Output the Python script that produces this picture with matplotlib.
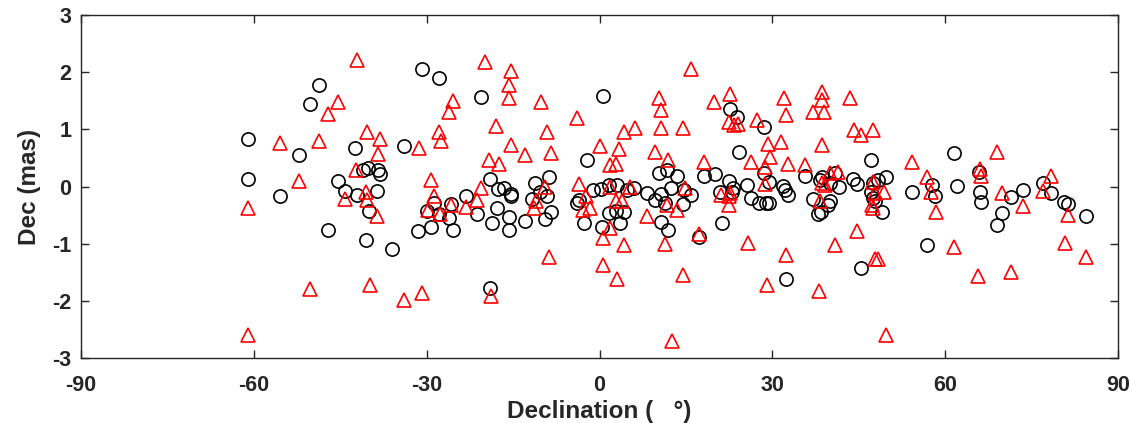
import matplotlib
matplotlib.use('Agg')
import matplotlib.pyplot as plt
import numpy as np

plt.rcParams['font.family'] = ['Liberation Sans', 'DejaVu Sans']
plt.rcParams['font.weight'] = 'bold'
plt.rcParams['axes.unicode_minus'] = False

# black circles: declination (deg), offset (mas)
circ_x = [-61.0, -61.0, -55.4, -52.1, -50.3, -48.7, -47.2, -45.4, -44.2, -42.4, -42.1, -40.5,
          -41.1, -40.2, -40.0, -38.6, -38.5, -38.1, -36.1, -33.9, -30.9, -31.5,
          -27.8, -20.6, -19.0, -17.6, -16.6, -15.4, -15.3, -23.2, -25.7, -28.7, -29.9, -27.8,
          -26.2, -29.3, -25.4, -21.2, -17.8, -18.7, -15.7, -15.7, -13.0, -11.8, -11.2, -10.3,
          -8.7, -9.1, -8.4, -9.4, -19.0, -3.9, -3.5, -2.7, -1.2, -2.1,
          0.6, 22.7, 23.9, 28.6, 24.2, 10.3, 11.7, 13.4, 18.1, 20.0, 22.4, 23.2, 23.0, 20.9,
          25.6, 26.3, 27.6, 29.4, 0.2, 1.6, 3.1, 4.8, 6.0, 8.3, 9.7, 10.6, 12.4, 14.6, 15.8,
          14.5, 11.4, 1.6, 2.8, 4.2, 3.6, 0.5, 10.6, 11.9, 17.2, 21.2,
          47.2, 61.5, 35.7, 28.6, 29.5, 31.9, 32.2, 32.7, 38.3, 38.6, 40.0, 40.9, 41.6, 37.1,
          40.0, 39.7, 38.0, 38.5, 44.0, 44.7, 47.4, 48.3, 49.8, 47.2, 47.5, 47.8, 49.0, 54.3,
          57.7, 58.3, 56.8, 45.3, 32.3, 62.0, 28.9,
          65.8, 66.0, 66.2, 69.0, 69.8, 71.4, 73.5, 76.9, 78.4, 80.7, 81.4, 84.4]
circ_y = [0.83, 0.13, -0.17, 0.55, 1.44, 1.77, -0.76, 0.09, -0.08, 0.68, -0.14, -0.94,
          0.28, 0.33, -0.42, -0.08, 0.28, 0.22, -1.09, 0.71, 2.05, -0.78,
          1.89, 1.56, 0.13, -0.04, -0.03, -0.13, -0.17, -0.17, -0.30, -0.28, -0.42, -0.48,
          -0.55, -0.70, -0.76, -0.48, -0.37, -0.63, -0.54, -0.76, -0.61, -0.22, 0.06, -0.10,
          0.16, -0.17, -0.45, -0.57, -1.78, -0.28, -0.24, -0.63, -0.06, 0.47,
          1.59, 1.35, 1.22, 1.04, 0.61, 0.24, 0.29, 0.19, 0.19, 0.22, 0.09, -0.03, -0.09, -0.09,
          0.03, -0.20, -0.29, -0.29, -0.05, 0.03, 0.02, -0.06, -0.03, -0.12, -0.23, -0.13, -0.03,
          -0.06, -0.15, -0.31, -0.29, -0.47, -0.42, -0.45, -0.63, -0.70, -0.62, -0.76, -0.89, -0.63,
          0.47, 0.58, 0.19, 0.24, 0.08, 0.01, -0.06, -0.15, 0.12, 0.17, 0.06, 0.23, 0.00, -0.22,
          -0.26, -0.32, -0.48, -0.44, 0.13, 0.05, 0.06, 0.12, 0.16, -0.09, -0.20, -0.26, -0.45, -0.09,
          0.02, -0.17, -1.03, -1.42, -1.61, 0.01, -0.28,
          0.26, -0.09, -0.27, -0.67, -0.46, -0.18, -0.06, 0.06, -0.12, -0.27, -0.30, -0.52]

# red triangles
tri_x = [-42.1, -45.4, -47.2, -55.4, -48.7, -40.3, -38.1, -38.5, -52.1, -61.0, -42.3, -40.6,
         -44.2, -40.3, -38.7, -50.3, -39.9, -33.9, -61.0,
         -19.9, -15.4, -15.7, -15.7, -25.4, -26.2, -10.2, -3.9, -17.9, -27.8, -9.1, -27.5,
         -31.4, -15.4, -12.9, -8.5, -19.1, -17.5, -29.3, -28.7, -29.8, -27.7, -25.7, -23.2,
         -21.2, -20.5, -11.4, -11.1, -9.4, -3.6, -2.3, -2.8, -1.6, -8.7, -30.9, -18.8,
         15.8, 10.3, 22.7, 19.9, 10.6, 6.2, 10.6, 14.5, 4.2, 22.5, 23.3, 24.0, 27.3, 0.0,
         3.4, 9.7, 1.9, 2.8, 11.9, 18.1, 26.3, 29.6, 29.2, 28.7, 28.7, 1.8, 5.3, 2.8, 3.9,
         11.7, 13.4, 14.9, 21.0, 22.4, 22.4, 22.7, 8.3, 1.9, 0.6, 4.2, 11.4, 17.2, 25.7,
         0.6, 3.1, 14.5, 29.1, 12.5,
         32.1, 38.7, 38.6, 43.5, 32.4, 37.1, 39.0, 44.1, 45.3, 47.5, 31.5, 32.7, 35.7, 38.6,
         40.0, 41.4, 38.6, 39.1, 38.2, 47.5, 47.8, 49.4, 47.3, 47.5, 54.3, 56.8, 57.6, 58.4,
         44.7, 40.9, 32.3, 47.8, 48.4, 38.1, 49.8, 61.5,
         69.0, 66.0, 66.2, 69.8, 73.5, 76.9, 78.4, 81.4, 80.8, 84.4, 65.7, 71.4]
tri_y = [2.22, 1.47, 1.27, 0.76, 0.80, 0.95, 0.83, 0.57, 0.09, -0.37, 0.28, -0.10,
         -0.22, -0.23, -0.52, -1.80, -1.73, -1.98, -2.59,
         2.18, 2.02, 1.77, 1.55, 1.50, 1.31, 1.47, 1.19, 1.06, 0.95, 0.95, 0.80,
         0.67, 0.73, 0.55, 0.58, 0.47, 0.40, 0.12, -0.17, -0.41, -0.48, -0.32, -0.36,
         -0.24, -0.03, -0.37, -0.26, 0.00, 0.04, -0.16, -0.41, -0.38, -1.24, -1.86, -1.91,
         2.06, 1.55, 1.62, 1.47, 1.34, 1.03, 1.03, 1.03, 0.95, 1.13, 1.08, 1.10, 1.16, 0.70,
         0.65, 0.61, 0.37, 0.40, 0.47, 0.42, 0.42, 0.52, 0.74, 0.34, 0.04, 0.00, 0.00, -0.26, -0.26,
         -0.32, -0.41, -0.03, -0.15, -0.17, -0.32, -0.12, -0.52, -0.72, -0.90, -1.03, -1.01, -0.83, -0.98,
         -1.38, -1.62, -1.55, -1.73, -2.70,
         1.55, 1.66, 1.51, 1.55, 1.25, 1.31, 1.31, 0.98, 0.90, 0.98, 0.78, 0.40, 0.37, 0.73,
         0.23, 0.26, 0.06, 0.03, -0.26, 0.08, -0.12, -0.10, -0.32, -0.37, 0.42, 0.16, -0.10, -0.45,
         -0.78, -1.03, -1.19, -1.27, -1.27, -1.82, -2.60, -1.06,
         0.60, 0.30, 0.18, -0.12, -0.34, -0.08, 0.18, -0.49, -0.98, -1.23, -1.56, -1.50]

fig = plt.figure(figsize=(11.3, 4.23), dpi=100)
ax = fig.add_axes([0.0717, 0.1537, 0.9177, 0.8108])

ax.plot(circ_x, circ_y, 'o', mfc='none', mec='k', ms=9.5, mew=1.2, ls='none')
ax.plot(tri_x, tri_y, '^', mfc='none', mec='r', ms=10.5, mew=1.2, ls='none')

ax.set_xlim(-90, 90)
ax.set_ylim(-3, 3)
ax.set_xticks(np.arange(-90, 91, 30))
ax.set_yticks(np.arange(-3, 4, 1))

gray = '#262626'
for s in ax.spines.values():
    s.set_color(gray)
    s.set_linewidth(1.0)
ax.tick_params(direction='in', length=6, width=1.0, colors=gray, labelsize=15.5,
               top=True, right=True)
ax.tick_params(axis='x', pad=12)
ax.tick_params(axis='y', pad=7)
for lab in ax.get_xticklabels() + ax.get_yticklabels():
    lab.set_fontweight('bold')

ax.set_xlabel('Declination (   °)', fontsize=17.5, fontweight='bold', color=gray, labelpad=3)
ax.set_ylabel('Dec (mas)', fontsize=17.5, fontweight='bold', color=gray, labelpad=8)

fig.savefig('out.png', dpi=100)
